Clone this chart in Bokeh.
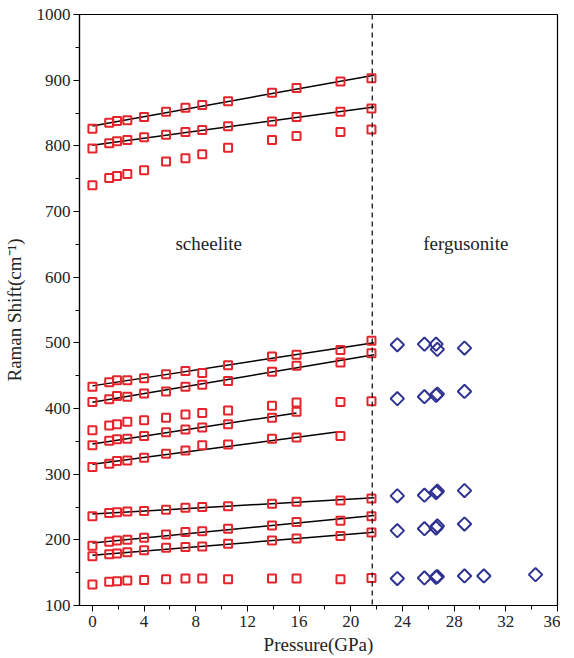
import numpy as np
from bokeh.plotting import figure
from bokeh.models import FixedTicker, Span
from bokeh.core.properties import value
from bokeh.embed import file_html
from bokeh.resources import INLINE

# ---------------- data ----------------
pressure = [0, 1.3, 1.9, 2.7, 4.0, 5.7, 7.2, 8.5, 10.5, 13.9, 15.8, 19.2, 21.6]

s1 = [826, 835, 838, 839, 844, 852, 858, 862, 868, 881, 888, 898, 903]
s2 = [796, 804, 807, 809, 813, 817, 821, 824, 830, 837, 844, 852, 857]
s3 = [740, 751, 754, 757, 763, 776, 781, 787, 797, 809, 815, 821, 825]
s4 = [433, 440, 443, 443, 446, 452, 457, 454, 466, 479, 482, 489, 503]
s5 = [410, 414, 419, 418, 423, 426, 433, 436, 442, 456, 465, 470, 484]
s6 = [367, 374, 376, 380, 382, 386, 391, 393, 397, 404, 409, 410, 411]
s7 = [344, 351, 353, 354, 358, 364, 368, 371, 376, 386, 395]
s8 = [311, 316, 320, 321, 325, 331, 336, 344, 345, 354, 356, 358]
s9 = [236, 241, 242, 243, 244, 246, 249, 250, 251, 255, 258, 260, 263]
s10 = [191, 197, 199, 200, 203, 208, 212, 213, 217, 222, 227, 229, 236]
s11 = [175, 178, 179, 181, 184, 188, 189, 190, 194, 199, 202, 206, 211]
s12 = [132, 136, 137, 138, 139, 140, 141, 141, 140, 141, 141, 140, 142]

scheelite_series = [s1, s2, s3, s4, s5, s6, s7, s8, s9, s10, s11, s12]
fitted_series = [s1, s2, s4, s5, s7, s8, s9, s10, s11]

ferg_pressure = [23.6, 25.7, 26.6, 26.7, 28.8]
ferg_pressure_low = [23.6, 25.7, 26.6, 26.7, 28.8, 30.3, 34.3]
f1 = [497, 498, 498, 490, 492]
f2 = [415, 418, 420, 422, 426]
f3 = [267, 268, 272, 274, 275]
f4 = [214, 217, 218, 221, 224]
f5 = [141, 142, 143, 144, 145, 145, 147]

transition_pressure = 21.66

phase_labels = ["scheelite", "fergusonite"]
phase_label_x = [9.0, 28.9]
phase_label_y = [652, 652]

x_ticks = list(range(0, 37, 4))
x_minor = list(range(-2, 37, 2))
y_ticks = list(range(100, 1001, 100))
y_minor = list(range(100, 1001, 50))

# ---------------- styling ----------------
RED = "#e5242b"
BLUE = "#2e3192"
FONT = "'Liberation Serif', 'Times New Roman', serif"

p = figure(width=560, height=657, x_range=(-1, 36), y_range=(100, 1000),
           output_backend="svg", toolbar_location=None,
           min_border_left=79, min_border_right=3, min_border_top=14,
           min_border_bottom=52)
p.grid.visible = False
p.outline_line_color = "black"
p.outline_line_width = 1.2
p.background_fill_color = "white"
p.border_fill_color = "white"

for ax in (p.xaxis[0], p.yaxis[0]):
    ax.axis_line_color = "black"
    ax.axis_line_width = 1.2
    ax.major_tick_in = 0
    ax.major_tick_out = 6
    ax.minor_tick_in = 0
    ax.minor_tick_out = 4
    ax.major_tick_line_width = 1
    ax.minor_tick_line_width = 1
    ax.major_label_text_font = FONT
    ax.major_label_text_font_size = "17px"
    ax.major_label_text_color = "#222222"
    ax.axis_label_text_font = FONT
    ax.axis_label_text_font_size = "19px"
    ax.axis_label_text_font_style = "normal"
    ax.axis_label_text_color = "#222222"

p.xaxis.ticker = FixedTicker(ticks=x_ticks, minor_ticks=x_minor)
p.yaxis.ticker = FixedTicker(ticks=y_ticks, minor_ticks=y_minor)
p.xaxis.axis_label = "Pressure(GPa)"
p.yaxis.axis_label = "Raman Shift(cm\u207b\u00b9)"
p.xaxis.major_label_standoff = 4
p.xaxis.axis_label_standoff = 4
p.yaxis.major_label_standoff = 3
p.yaxis.axis_label_standoff = 9

# fitted lines
for s in fitted_series:
    xs = np.array(pressure[:len(s)], dtype=float)
    ys = np.array(s, dtype=float)
    k, b = np.polyfit(xs, ys, 1)
    x_end = xs[-1] + (0.2 if xs[-1] > 20 else 0)
    p.line([xs[0], x_end], [b + k * xs[0], b + k * x_end],
           line_color="black", line_width=1.5)

# scheelite markers
for s in scheelite_series:
    p.scatter(pressure[:len(s)], s, marker="square", size=8,
              fill_color=None, line_color=RED, line_width=2)

# fergusonite markers
for row in (f1, f2, f3, f4):
    p.scatter(ferg_pressure, row, marker="square", angle=np.pi / 4,
              size=9.5, fill_color=None, line_color=BLUE, line_width=2)
p.scatter(ferg_pressure_low, f5, marker="square", angle=np.pi / 4,
          size=9.5, fill_color=None, line_color=BLUE, line_width=2)

p.add_layout(Span(location=transition_pressure, dimension="height",
                  line_color="black", line_dash="5 4", line_width=1.2))

p.text(x=phase_label_x, y=phase_label_y, text=phase_labels,
       text_font=value(FONT), text_font_size="19px",
       text_align="center", text_baseline="middle", text_color="#222222")

open("out.html", "w").write(file_html(p, INLINE))
